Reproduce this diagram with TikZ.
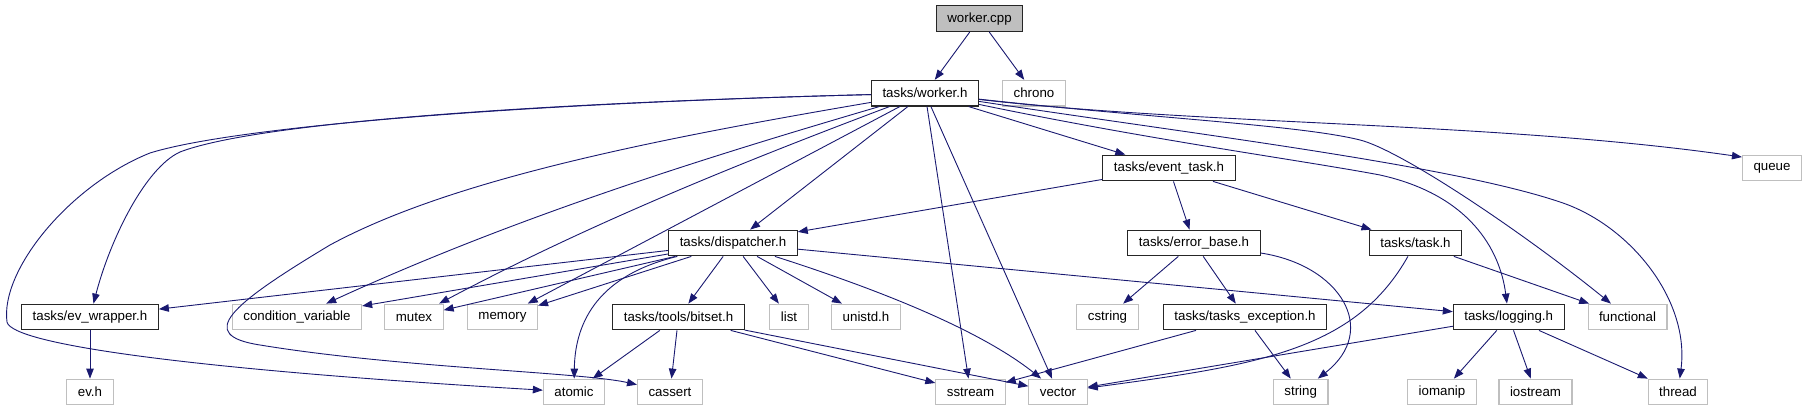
\documentclass[tikz,border=0pt]{standalone}
\usepackage{fontspec}
\setmainfont{Liberation Sans}
\usepackage{tikz}
\usetikzlibrary{arrows.meta}
\usepackage{xcolor}
\definecolor{edgeblue}{RGB}{25,25,112}
\definecolor{sysgray}{RGB}{191,191,191}

\begin{document}
\begin{tikzpicture}[x=1pt, y=-1pt,
        hdrbox/.style={draw=black!85, fill=white, line width=1.1pt, minimum height=25.7pt, inner xsep=11pt, inner ysep=0pt, font=\fontsize{13.3}{16}\selectfont},
        sysbox/.style={hdrbox, draw=sysgray},
        mainbox/.style={hdrbox, fill=sysgray},
        incl/.style={draw=edgeblue, line width=0.9pt, -{Triangle[length=10pt,width=7.5pt]}}
    ]
    \useasboundingbox (0,0) rectangle (1805,411);
    % Arquivo principal
    \node[mainbox] (wcpp) at (979.5,18.7) {worker.cpp};
    % Cabeçalhos do projeto
    \node[hdrbox] (wh) at (925,93.2) {tasks/worker.h};
    \node[hdrbox] (evtask) at (1169,168) {tasks/event\_task.h};
    \node[hdrbox] (disp) at (733,243) {tasks/dispatcher.h};
    \node[hdrbox] (errbase) at (1194,243) {tasks/error\_base.h};
    \node[hdrbox] (task) at (1415.5,243) {tasks/task.h};
    \node[hdrbox] (evwrap) at (90,317) {tasks/ev\_wrapper.h};
    \node[hdrbox] (bitset) at (678.5,317) {tasks/tools/bitset.h};
    \node[hdrbox] (taskexc) at (1245,317) {tasks/tasks\_exception.h};
    \node[hdrbox] (logging) at (1508.7,317) {tasks/logging.h};
    % Cabeçalhos do sistema
    \node[sysbox] (chrono) at (1034,93.2) {chrono};
    \node[sysbox] (queue) at (1772,168) {queue};
    \node[sysbox] (condvar) at (297,317) {condition\_variable};
    \node[sysbox] (mutex) at (414,317) {mutex};
    \node[sysbox] (memory) at (502.5,317) {memory};
    \node[sysbox] (list) at (789,317) {list};
    \node[sysbox] (unistd) at (866,317) {unistd.h};
    \node[sysbox] (cstring) at (1107.5,317) {cstring};
    \node[sysbox] (functional) at (1627.5,317) {functional};
    \node[sysbox] (evh) at (90,392) {ev.h};
    \node[sysbox] (atomic) at (574,392) {atomic};
    \node[sysbox] (cassert) at (670,392) {cassert};
    \node[sysbox] (sstream) at (970.5,392) {sstream};
    \node[sysbox] (vector) at (1058,392) {vector};
    \node[sysbox] (string) at (1300.7,392) {string};
    \node[sysbox] (iomanip) at (1442,392) {iomanip};
    \node[sysbox] (iostream) at (1535.5,392) {iostream};
    \node[sysbox] (thread) at (1678,392) {thread};
    % worker.cpp
    \draw[incl] (wcpp) -- (wh);
    \draw[incl] (wcpp) -- (chrono);
    % worker.h
    \draw[incl] (wh) .. controls (500,104) and (230,128) .. (150,153) .. controls (70,185) and (0,270) .. (7,322) .. controls (12,345) and (200,370) .. (atomic);
    \draw[incl] (wh) .. controls (500,104) and (250,125) .. (180,152) .. controls (145,168) and (110,240) .. (evwrap);
    \draw[incl] (wh) .. controls (650,140) and (450,180) .. (330,245) .. controls (230,305) and (195,335) .. (260,345) .. controls (400,368) and (580,372) .. (cassert);
    \draw[incl] (wh) .. controls (697,160) and (513,218) .. (condvar);
    \draw[incl] (wh) .. controls (737,164) and (587,225) .. (mutex);
    \draw[incl] (wh) -- (memory);
    \draw[incl] (wh) -- (disp);
    \draw[incl] (wh) -- (sstream);
    \draw[incl] (wh) -- (vector);
    \draw[incl] (wh) -- (evtask);
    \draw[incl] (wh) .. controls (1150,140) and (1300,160) .. (1380,175) .. controls (1470,195) and (1500,250) .. (logging);
    \draw[incl] (wh) .. controls (1150,118) and (1300,125) .. (1360,140) .. controls (1400,150) and (1520,230) .. (functional);
    \draw[incl] (wh) .. controls (1200,125) and (1500,122) .. (queue.160);
    \draw[incl] (wh) .. controls (1200,135) and (1450,165) .. (1560,202) .. controls (1630,225) and (1690,300) .. (thread);
    % event_task.h
    \draw[incl] (evtask) -- (disp);
    \draw[incl] (evtask) -- (errbase);
    \draw[incl] (evtask) -- (task);
    % dispatcher.h
    \draw[incl] (disp) -- (evwrap);
    \draw[incl] (disp) -- (condvar);
    \draw[incl] (disp) -- (mutex);
    \draw[incl] (disp) -- (memory);
    \draw[incl] (disp) .. controls (600,275) and (575,320) .. (atomic);
    \draw[incl] (disp) -- (bitset);
    \draw[incl] (disp) -- (list);
    \draw[incl] (disp) -- (unistd);
    \draw[incl] (disp) .. controls (880,290) and (980,330) .. (vector);
    \draw[incl] (disp) -- (logging);
    % error_base.h
    \draw[incl] (errbase) -- (cstring);
    \draw[incl] (errbase) -- (taskexc);
    \draw[incl] (errbase) .. controls (1340,265) and (1380,330) .. (string);
    % task.h
    \draw[incl] (task) .. controls (1355,350) and (1260,365) .. (vector);
    \draw[incl] (task) -- (functional);
    % ev_wrapper.h, bitset.h, tasks_exception.h, logging.h
    \draw[incl] (evwrap) -- (evh);
    \draw[incl] (bitset) -- (atomic);
    \draw[incl] (bitset) -- (cassert);
    \draw[incl] (bitset) -- (sstream);
    \draw[incl] (bitset) -- (vector);
    \draw[incl] (taskexc) -- (sstream);
    \draw[incl] (taskexc) -- (string);
    \draw[incl] (logging) -- (vector);
    \draw[incl] (logging) -- (iomanip);
    \draw[incl] (logging) -- (iostream);
    \draw[incl] (logging) -- (thread);
\end{tikzpicture}
\end{document}
